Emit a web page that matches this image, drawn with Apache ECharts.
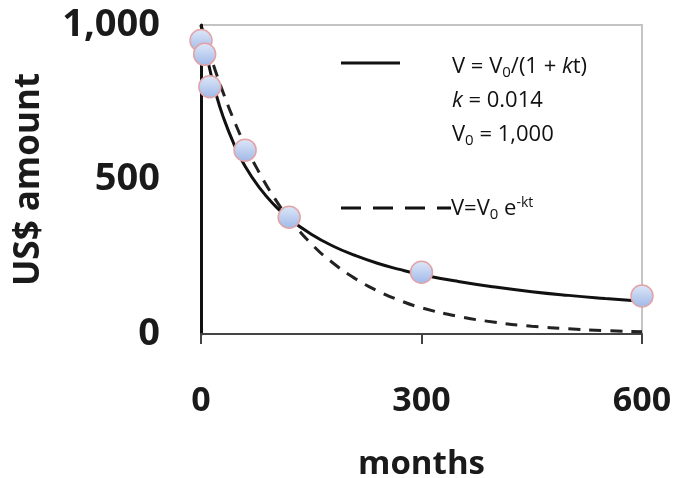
<!DOCTYPE html>
<html lang="en">
<head>
<meta charset="UTF-8">
<title>US$ amount vs months</title>
<script src="https://cdn.jsdelivr.net/npm/echarts@6/dist/echarts.min.js"></script>
<style>
  html, body { margin: 0; padding: 0; background: #fff; }
  #chart { width: 675px; height: 478px; }
</style>
</head>
<body>
<div id="chart"></div>
<script>
// observed values (circles)
var obsMonths = [0, 5, 12, 60, 120, 300, 600];
var obsAmount = [950, 905, 800, 595, 378, 200, 123];

// curves
var curveMonths = [0, 10, 20, 30, 45, 60, 80, 100, 120, 150, 180, 210, 240, 270, 300, 350, 400, 450, 500, 550, 600];
var hyperbolic  = [1000, 877, 781, 704, 614, 543, 472, 417, 373, 323, 284, 254, 229, 209, 192, 170, 152, 137, 125, 115, 106];
var exponential = [1000, 921, 849, 782, 691, 611, 519, 440, 374, 292, 229, 179, 140, 109, 85, 57, 38, 25, 17, 11, 7];

var xTicks = [0, 300, 600];
var yTicks = [0, 500, 1000];

function pairs(xs, ys) {
  var out = [];
  for (var i = 0; i < xs.length; i++) out.push([xs[i], ys[i]]);
  return out;
}

var font = '"Open Sans", "DejaVu Sans", sans-serif';
var chart = echarts.init(document.getElementById('chart'));

var option = {
  animation: false,
  backgroundColor: '#fff',
  grid: {
    left: 201, right: 33, top: 25, bottom: 144,
    outerBoundsMode: 'none', containLabel: false,
    show: true, borderColor: '#c4c4c4', borderWidth: 2, backgroundColor: 'transparent'
  },
  xAxis: {
    type: 'value', min: xTicks[0], max: xTicks[2], interval: 300,
    name: 'months', nameLocation: 'middle', nameGap: 114,
    nameTextStyle: { fontFamily: font, fontWeight: 'bold', fontSize: 33, color: '#1a1a1a' },
    axisLine: { show: true, lineStyle: { color: '#444', width: 2 } },
    axisTick: { show: true, inside: false, length: 10, lineStyle: { color: '#444', width: 2 } },
    axisLabel: { margin: 50, fontFamily: font, fontWeight: 'bold', fontSize: 34, color: '#1a1a1a' },
    splitLine: { show: false }
  },
  yAxis: {
    type: 'value', min: yTicks[0], max: yTicks[2], interval: 500,
    name: 'US$ amount', nameLocation: 'middle', nameGap: 154, nameRotate: 90,
    nameTextStyle: { fontFamily: font, fontWeight: 'bold', fontSize: 35, color: '#1a1a1a' },
    axisLine: { show: true, lineStyle: { color: '#111', width: 3 } },
    axisTick: { show: false },
    axisLabel: {
      margin: 41, fontFamily: font, fontWeight: 'bold', fontSize: 38, color: '#1a1a1a',
      formatter: function (v) { return v.toLocaleString('en-US'); }
    },
    splitLine: { show: false }
  },
  series: [
    {
      type: 'line', data: pairs(curveMonths, exponential), showSymbol: false, smooth: true,
      lineStyle: { color: '#222', width: 3, type: [12, 9] }, z: 2
    },
    {
      type: 'line', data: pairs(curveMonths, hyperbolic), showSymbol: false, smooth: true,
      lineStyle: { color: '#111', width: 3 }, z: 3
    },
    {
      type: 'scatter', data: pairs(obsMonths, obsAmount), symbolSize: 22, z: 5,
      itemStyle: {
        color: new echarts.graphic.LinearGradient(0, 0, 0, 1, [
          { offset: 0, color: '#dfe8f8' }, { offset: 1, color: '#9fb8e8' }
        ]),
        borderColor: '#e3a3a6', borderWidth: 1.5, opacity: 1
      }
    }
  ],
  graphic: [
    { type: 'line', shape: { x1: 341, y1: 63, x2: 400, y2: 63 }, style: { stroke: '#111', lineWidth: 3 } },
    { type: 'line', shape: { x1: 341, y1: 208, x2: 451, y2: 208 }, style: { stroke: '#111', lineWidth: 3, lineDash: [20, 12] } },
    {
      type: 'text', left: 452, top: 50,
      style: {
        text: 'V = V{sub|0}/(1 + {it|k}t)\n{it|k} = 0.014\nV{sub|0} = 1,000',
        fontFamily: font, fontSize: 22, lineHeight: 34, fill: '#111',
        rich: {
          sub: { fontSize: 15, fontFamily: font, padding: [12, 0, 0, 0], fill: '#111' },
          it: { fontStyle: 'italic', fontSize: 22, fontFamily: font, fill: '#111' }
        }
      }
    },
    {
      type: 'text', left: 451, top: 194,
      style: {
        text: 'V=V{sub|0} e{sup|-kt}',
        fontFamily: font, fontSize: 22, lineHeight: 30, fill: '#111',
        rich: {
          sub: { fontSize: 15, fontFamily: font, padding: [12, 0, 0, 0], fill: '#111' },
          sup: { fontSize: 14, fontFamily: font, padding: [0, 0, 12, 0], fill: '#111' }
        }
      }
    }
  ]
};

chart.setOption(option);
</script>
</body>
</html>
